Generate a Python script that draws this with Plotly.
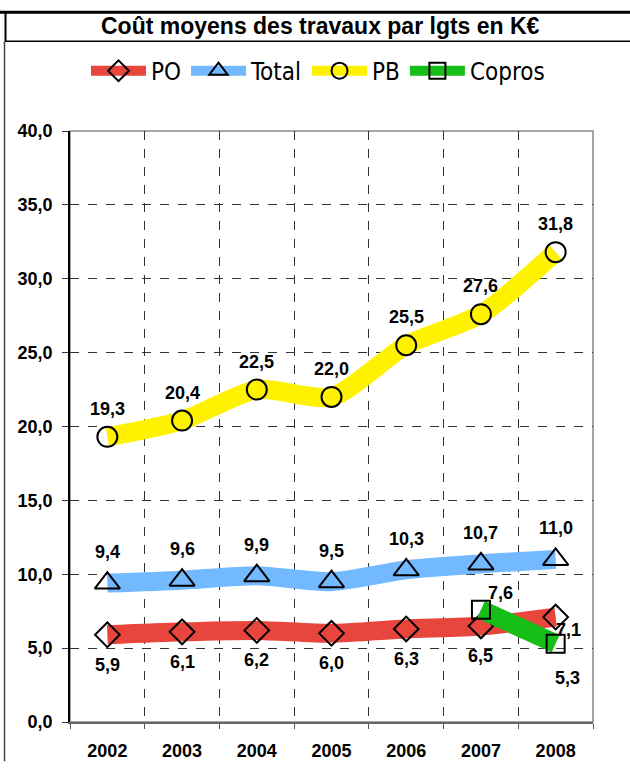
import plotly.graph_objects as go

years = ["2002", "2003", "2004", "2005", "2006", "2007", "2008"]
po = [5.9, 6.1, 6.2, 6.0, 6.3, 6.5, 7.1]
total = [9.4, 9.6, 9.9, 9.5, 10.3, 10.7, 11.0]
pb = [19.3, 20.4, 22.5, 22.0, 25.5, 27.6, 31.8]
copros = [None, None, None, None, None, 7.6, 5.3]
y_ticks = [0, 5, 10, 15, 20, 25, 30, 35, 40]

W, H = 630, 773
L, R, T, B = 70, 37, 131, 40
pw, ph = W - L - R, H - T - B

def px(x):
    return (x - L) / pw

def py(y):
    return (H - B - y) / ph

def fmt(v):
    return f"{v:.1f}".replace(".", ",")

# name, values, colour, symbol, marker size, label dy (px, + = below)
series = [
    ("PO", po, "#E8453C", "diamond-open", 19, 30),
    ("Total", total, "#73B9FF", "triangle-up-open", 22, -31),
    ("PB", pb, "#FFF200", "circle-open", 20, -28),
    ("Copros", copros, "#17BE17", "square-open", 18, 0),
]

fig = go.Figure()
annotations = []
for name, vals, color, sym, msize, dy in series:
    fig.add_trace(go.Scatter(
        x=list(range(len(years))), y=vals, name=name, mode="lines+markers",
        line=dict(color=color, width=19, shape="spline", smoothing=0.7),
        marker=dict(symbol=sym, size=msize, color="black",
                    line=dict(width=2, color="black")),
        connectgaps=False,
    ))

label_font = dict(family="Liberation Sans, Arial", size=18, color="black")
for name, vals, color, sym, msize, dy in series:
    for i, v in enumerate(vals):
        if v is None:
            continue
        xs, ys = 0, -dy
        if name == "PO" and i == len(vals) - 1:
            xs, ys = 13, -13
        if name == "Copros":
            if i == len(vals) - 1:
                xs, ys = 12, -34
            else:
                xs, ys = 20, 17
        annotations.append(dict(
            x=i, y=v, xref="x", yref="y", text=f"<b>{fmt(v)}</b>",
            showarrow=False, xshift=xs, yshift=ys, font=label_font,
        ))

annotations.append(dict(
    x=px(320), y=py(24.5), xref="paper", yref="paper",
    text="<b>Coût moyens des travaux par lgts en K€</b>", showarrow=False,
    font=dict(family="Liberation Sans, Arial", size=23, color="black"),
    xanchor="center", yanchor="middle",
))

shapes = [
    dict(type="line", xref="paper", yref="paper", x0=px(0), x1=px(W), y0=py(10), y1=py(10),
         line=dict(color="black", width=3)),
    dict(type="line", xref="paper", yref="paper", x0=px(5), x1=px(W), y0=py(39.5), y1=py(39.5),
         line=dict(color="black", width=1.5)),
    dict(type="line", xref="paper", yref="paper", x0=px(5.5), x1=px(5.5), y0=py(10), y1=py(39.5),
         line=dict(color="black", width=2)),
    dict(type="line", xref="paper", yref="paper", x0=px(4.5), x1=px(4.5), y0=py(39.5), y1=py(H),
         line=dict(color="#444444", width=1.5)),
    dict(type="rect", xref="paper", yref="paper", x0=0, x1=1, y0=0, y1=1,
         line=dict(color="#888888", width=1.5), layer="below"),
]

fig.update_layout(
    width=W, height=H,
    margin=dict(l=L, r=R, t=T, b=B),
    paper_bgcolor="white", plot_bgcolor="white",
    separators=", ",
    showlegend=True,
    legend=dict(orientation="h", x=px(318), xanchor="center", y=py(70), yanchor="middle",
                font=dict(family="DejaVu Sans Condensed, DejaVu Sans", size=24, color="black"),
                traceorder="normal", itemwidth=55),
    annotations=annotations,
    shapes=shapes,
)
fig.update_xaxes(
    range=[-0.5, 6.5], tickvals=list(range(len(years))),
    ticktext=[f"<b>{y}</b>" for y in years],
    ticks="", showgrid=False, zeroline=False,
    showline=True, linecolor="#666666", linewidth=1.5,
    tickfont=dict(family="Liberation Sans, Arial", size=18, color="black"),
    ticklabelstandoff=12,
    minor=dict(tickvals=[i + 0.5 for i in range(-1, len(years))], ticks="outside",
               ticklen=5, tickcolor="#555555", showgrid=True,
               gridcolor="#333333", griddash="dash", gridwidth=1),
)
fig.update_yaxes(
    range=[0, 40], tickvals=y_ticks, ticktext=[f"<b>{fmt(v)}</b>" for v in y_ticks],
    ticks="outside", ticklen=6, tickcolor="#333333",
    showgrid=True, gridcolor="#333333", griddash="dash", gridwidth=1,
    zeroline=False,
    showline=True, linecolor="black", linewidth=1.5,
    tickfont=dict(family="Liberation Sans, Arial", size=18, color="black"),
    ticklabelstandoff=6,
)

fig.write_html("out.html", config={"displayModeBar": False},
               post_script="document.body.style.margin='0';")
